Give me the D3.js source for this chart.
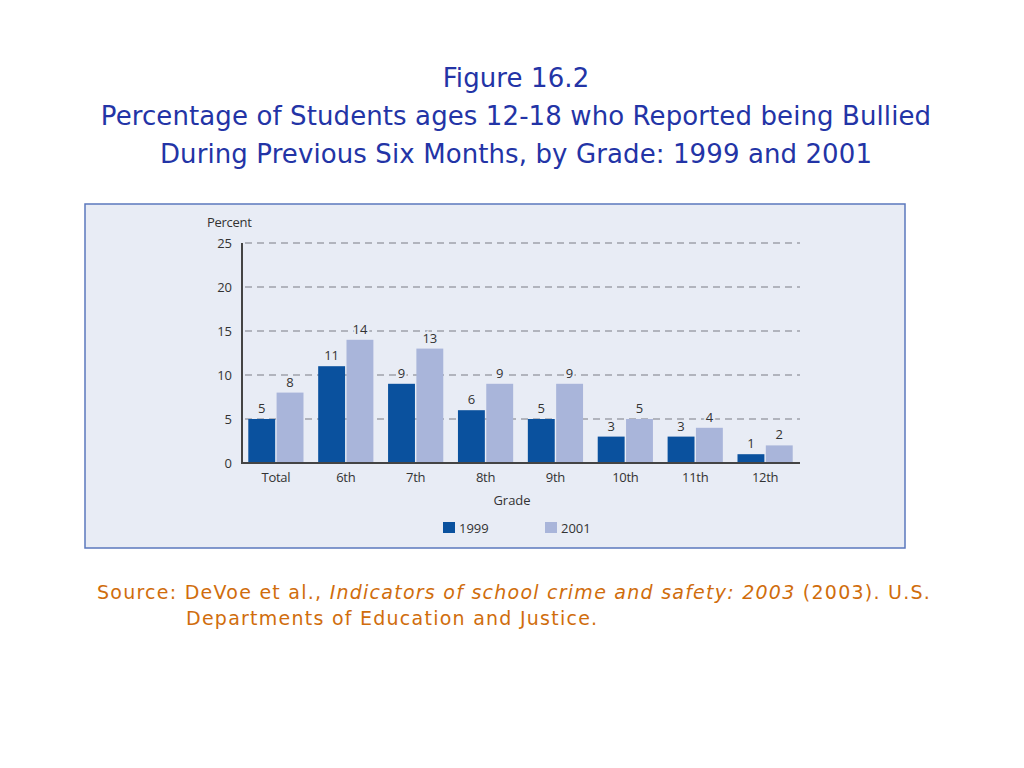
<!DOCTYPE html>
<html>
<head>
<meta charset="utf-8">
<script src="https://cdn.jsdelivr.net/npm/d3@7"></script>
<style>
  body { margin: 0; background: #fff; }
  svg { display: block; }
</style>
</head>
<body>
<svg id="chart" width="1024" height="768"></svg>
<script>
const grades = ["Total", "6th", "7th", "8th", "9th", "10th", "11th", "12th"]
const years = ["1999", "2001"]
const values1999 = [5, 11, 9, 6, 5, 3, 3, 1]
const values2001 = [8, 14, 13, 9, 9, 5, 4, 2]
const yTicks = [0, 5, 10, 15, 20, 25]

const colors = { "1999": "#0a519e", "2001": "#a9b5da" }
const panelBg = "#e8ecf5"
const titleColor = "#2334a6"
const sourceColor = "#d06d0c"

const svg = d3.select("#chart")

// title
const titleLines = [
    "Figure 16.2",
    "Percentage of Students ages 12-18 who Reported being Bullied",
    "During Previous Six Months, by Grade: 1999 and 2001"
]
svg.selectAll(".title")
    .data(titleLines)
    .enter()
    .append("text")
    .attr("class", "title")
    .attr("x", 516)
    .attr("y", (d, i) => 87 + i * 38)
    .attr("text-anchor", "middle")
    .style("font-family", "'DejaVu Sans', sans-serif")
    .style("font-size", "26px")
    .style("letter-spacing", "0.1px")
    .style("fill", titleColor)
    .text(d => d)

// panel
svg.append("rect")
    .attr("x", 85).attr("y", 204)
    .attr("width", 820).attr("height", 344)
    .attr("fill", panelBg)
    .attr("stroke", "#5b78bd")
    .attr("stroke-width", 1.5)

const x0 = d3.scaleBand().domain(grades).range([242, 799]).paddingInner(0.21).paddingOuter(0.09)
const x1 = d3.scaleBand().domain(years).range([0, x0.bandwidth()]).paddingInner(0.05)
const y = d3.scaleLinear().domain([0, 25]).range([463, 243])

const font = "'Open Sans', 'Liberation Sans', sans-serif"

// gridlines
svg.selectAll(".grid")
    .data(yTicks.filter(d => d > 0))
    .enter()
    .append("line")
    .attr("x1", 245).attr("x2", 800)
    .attr("y1", d => y(d)).attr("y2", d => y(d))
    .style("stroke", "#7a7d85")
    .style("stroke-width", 1.2)
    .style("stroke-dasharray", "7,5")

// y tick labels
svg.selectAll(".ytick")
    .data(yTicks)
    .enter()
    .append("text")
    .attr("x", 232)
    .attr("y", d => y(d) + 5)
    .attr("text-anchor", "end")
    .style("font-family", font)
    .style("font-size", "13px")
    .style("fill", "#333")
    .text(d => d)

svg.append("text")
    .attr("x", 207).attr("y", 227)
    .style("font-family", font)
    .style("font-size", "13px")
    .style("letter-spacing", "-0.3px")
    .style("fill", "#333")
    .text("Percent")

// bars
const rows = grades.map((g, i) => ({ grade: g, vals: [
    { year: "1999", v: values1999[i] },
    { year: "2001", v: values2001[i] }
] }))

const groups = svg.selectAll(".group")
    .data(rows)
    .enter()
    .append("g")
    .attr("transform", d => "translate(" + x0(d.grade) + ",0)")

groups.selectAll("rect")
    .data(d => d.vals)
    .enter()
    .append("rect")
    .attr("x", d => x1(d.year))
    .attr("y", d => y(d.v))
    .attr("width", x1.bandwidth())
    .attr("height", d => y(0) - y(d.v))
    .attr("fill", d => colors[d.year])

groups.selectAll(".val")
    .data(d => d.vals)
    .enter()
    .append("text")
    .attr("x", d => x1(d.year) + x1.bandwidth() / 2)
    .attr("y", d => y(d.v) - 6)
    .attr("text-anchor", "middle")
    .style("font-family", font)
    .style("font-size", "13px")
    .style("fill", "#333")
    .style("stroke", panelBg)
    .style("stroke-width", 4)
    .style("paint-order", "stroke")
    .text(d => d.v)

// axes lines
svg.append("line")
    .attr("x1", 242).attr("x2", 242)
    .attr("y1", y(25)).attr("y2", y(0))
    .style("stroke", "#444").style("stroke-width", 2)
svg.append("line")
    .attr("x1", 241).attr("x2", 800)
    .attr("y1", y(0)).attr("y2", y(0))
    .style("stroke", "#444").style("stroke-width", 2)

// x labels
svg.selectAll(".xlab")
    .data(grades)
    .enter()
    .append("text")
    .attr("x", d => x0(d) + x0.bandwidth() / 2)
    .attr("y", 482)
    .attr("text-anchor", "middle")
    .style("font-family", font)
    .style("font-size", "13px")
    .style("letter-spacing", "-0.3px")
    .style("fill", "#333")
    .text(d => d)

svg.append("text")
    .attr("x", 512).attr("y", 505)
    .attr("text-anchor", "middle")
    .style("font-family", font)
    .style("font-size", "13px")
    .style("fill", "#333")
    .text("Grade")

// legend
const legend = svg.selectAll(".legend")
    .data(years)
    .enter()
    .append("g")
    .attr("transform", (d, i) => "translate(" + (443 + i * 102) + ",522)")
legend.append("rect")
    .attr("width", 12).attr("height", 11)
    .attr("fill", d => colors[d])
legend.append("text")
    .attr("x", 16).attr("y", 10.5)
    .style("font-family", font)
    .style("font-size", "13px")
    .style("fill", "#333")
    .text(d => d)

// source
const srcFont = "'DejaVu Sans', sans-serif"
const src = svg.append("text")
    .attr("x", 97).attr("y", 599)
    .style("font-family", srcFont)
    .style("font-size", "19px")
    .style("letter-spacing", "1.25px")
    .style("fill", sourceColor)
src.append("tspan").text("Source: DeVoe et al., ")
src.append("tspan").style("font-style", "italic").text("Indicators of school crime and safety: 2003")
src.append("tspan").text(" (2003). U.S.")

svg.append("text")
    .attr("x", 186).attr("y", 625)
    .style("font-family", srcFont)
    .style("font-size", "19px")
    .style("letter-spacing", "1.25px")
    .style("fill", sourceColor)
    .text("Departments of Education and Justice.")
</script>
</body>
</html>
